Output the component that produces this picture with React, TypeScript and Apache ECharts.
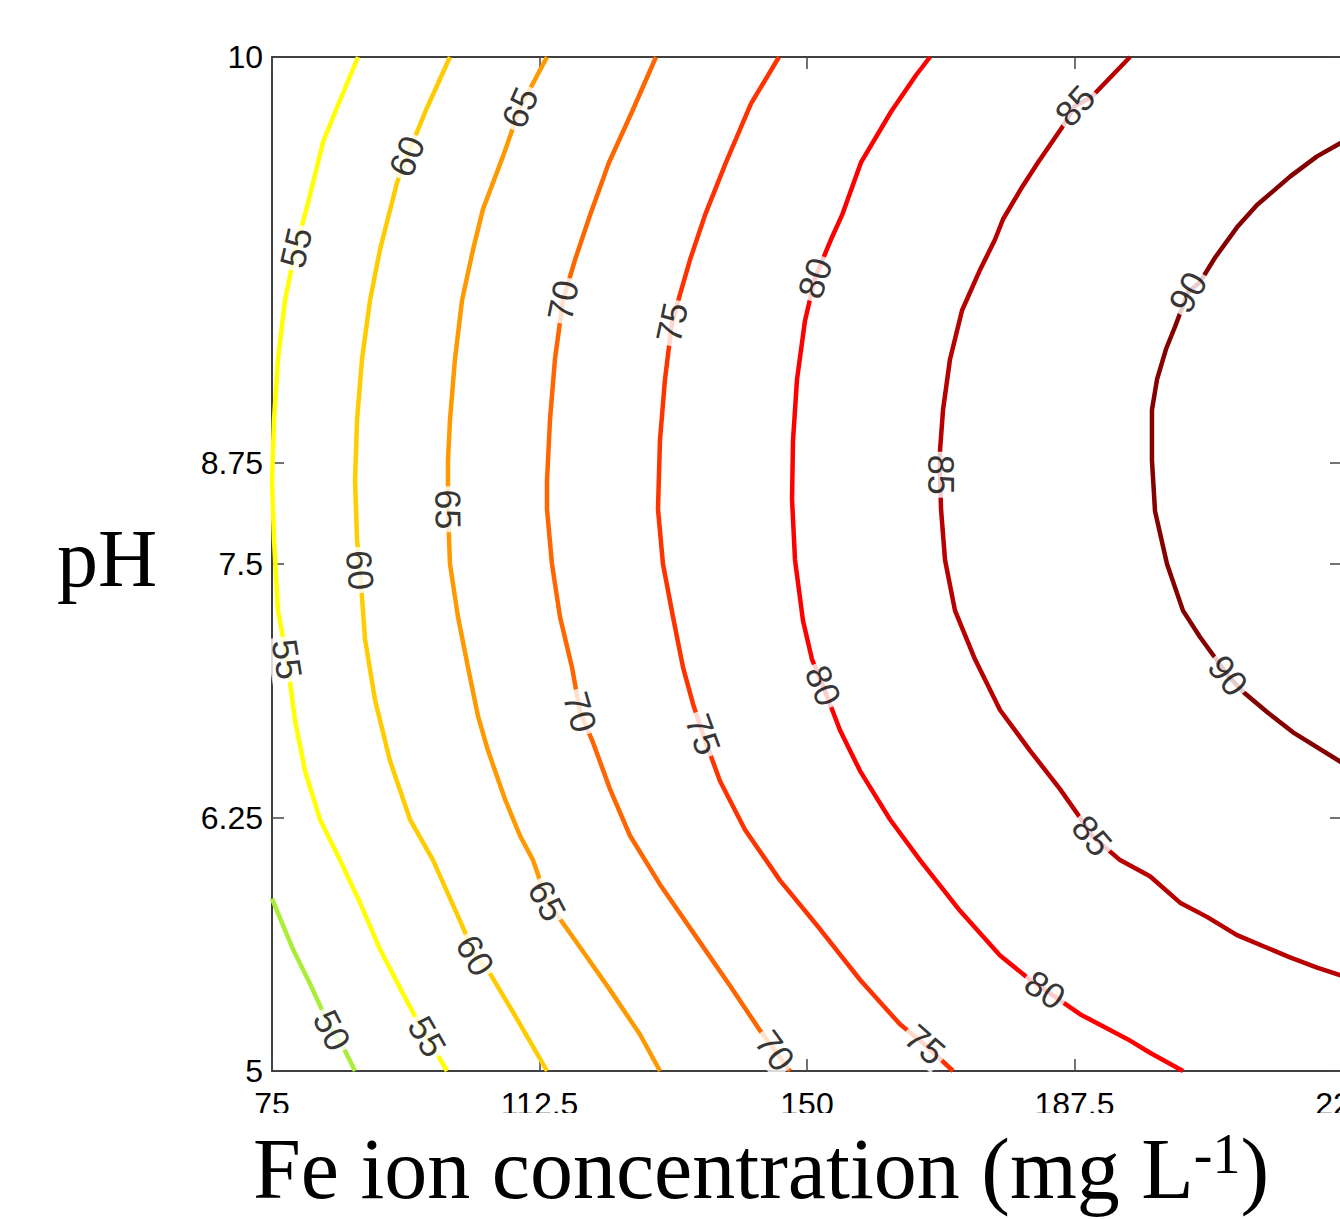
import React, { useEffect, useRef } from "react";
import * as echarts from "echarts";

// ---- axis ticks ----
const xMin = 75;
const xMax = 225;
const xInterval = 37.5;
const yMin = 5;
const yMax = 10;
const yTickValues = [5, 6.25, 7.5, 8, 10];
const yTickLabels = ["5", "6.25", "7.5", "8.75", "10"];

// ---- contour levels ----
const levels = [50, 55, 60, 65, 70, 75, 80, 85, 90];
const levelColors = ["#aaee3a", "#ffff00", "#ffcc00", "#ff9900", "#ff6600", "#ff3300", "#ff0000", "#b80000", "#850000"];

// ---- contour paths [Fe ion (mg/L), pH] ----
const contour50 = [[75.0, 5.85], [77.94, 5.6], [80.33, 5.43], [82.15, 5.29], [83.41, 5.2], [84.95, 5.12], [86.64, 5.0]];
const contour55 = [[87.06, 10.0], [84.11, 9.75], [82.15, 9.58], [80.05, 9.28], [78.36, 9.06], [76.82, 8.8], [75.84, 8.51], [75.28, 8.21], [75.0, 7.91], [75.28, 7.62], [75.84, 7.27], [77.1, 7.03], [78.22, 6.73], [79.63, 6.48], [81.73, 6.24], [84.53, 6.04], [87.34, 5.83], [90.14, 5.6], [92.94, 5.41], [95.33, 5.25], [96.73, 5.17], [99.53, 5.0]];
const contour60 = [[99.95, 10.0], [96.73, 9.75], [93.93, 9.51], [92.52, 9.38], [90.14, 9.05], [88.74, 8.8], [87.62, 8.51], [86.92, 8.21], [86.64, 7.91], [86.92, 7.62], [87.34, 7.47], [88.04, 7.13], [89.44, 6.83], [91.54, 6.53], [94.35, 6.24], [97.57, 6.04], [101.36, 5.74], [103.46, 5.57], [105.56, 5.48], [108.79, 5.29], [111.59, 5.12], [113.55, 5.0]];
const contour65 = [[113.55, 10.0], [109.77, 9.75], [107.38, 9.51], [104.58, 9.25], [103.18, 9.05], [101.64, 8.8], [100.65, 8.51], [99.95, 8.21], [99.67, 8.01], [99.67, 7.77], [99.95, 7.5], [101.07, 7.24], [102.48, 6.99], [103.88, 6.75], [105.28, 6.58], [107.66, 6.34], [109.77, 6.16], [111.59, 6.04], [113.55, 5.84], [118.18, 5.61], [122.38, 5.4], [126.59, 5.18], [129.39, 5.0]];
const contour70 = [[128.83, 10.0], [125.47, 9.73], [122.24, 9.48], [119.58, 9.22], [117.48, 9.0], [115.79, 8.8], [114.67, 8.51], [113.97, 8.21], [113.55, 7.91], [113.55, 7.77], [114.25, 7.5], [115.37, 7.24], [117.06, 6.99], [118.18, 6.77], [120.0, 6.62], [122.38, 6.39], [125.19, 6.16], [129.39, 5.92], [134.3, 5.67], [139.21, 5.42], [143.41, 5.2], [145.51, 5.1], [147.62, 5.0]];
const contour75 = [[146.07, 10.0], [142.15, 9.77], [138.64, 9.48], [135.7, 9.22], [133.6, 9.0], [132.2, 8.83], [131.07, 8.69], [130.09, 8.41], [129.39, 8.11], [129.11, 7.77], [129.81, 7.5], [131.21, 7.24], [132.62, 6.99], [134.02, 6.81], [135.42, 6.66], [137.8, 6.43], [141.31, 6.19], [146.21, 5.94], [151.82, 5.7], [157.43, 5.45], [163.04, 5.23], [166.54, 5.13], [170.47, 5.0]];
const contour80 = [[167.24, 10.0], [165.28, 9.91], [161.78, 9.73], [157.57, 9.48], [154.91, 9.22], [153.36, 9.1], [151.12, 8.91], [149.72, 8.7], [148.6, 8.41], [148.04, 8.11], [147.9, 7.82], [148.32, 7.52], [149.44, 7.22], [150.7, 7.03], [152.24, 6.9], [154.63, 6.68], [157.43, 6.48], [161.64, 6.24], [165.84, 6.04], [171.45, 5.79], [177.06, 5.57], [181.26, 5.45], [183.36, 5.4], [188.27, 5.28], [195.28, 5.15], [198.08, 5.09], [202.71, 5.0]];
const contour85 = [[195.28, 10.0], [189.81, 9.8], [187.57, 9.76], [185.89, 9.66], [182.38, 9.48], [180.0, 9.35], [177.48, 9.2], [176.36, 9.1], [174.25, 8.95], [171.73, 8.75], [170.05, 8.51], [169.07, 8.26], [168.65, 8.06], [168.65, 7.94], [168.79, 7.77], [169.35, 7.52], [170.75, 7.27], [173.55, 7.03], [177.06, 6.78], [181.26, 6.58], [185.47, 6.39], [188.27, 6.25], [189.95, 6.16], [193.88, 6.04], [198.08, 5.96], [202.29, 5.83], [206.07, 5.76], [210.28, 5.67], [217.71, 5.56], [221.5, 5.51], [225.0, 5.47]];
const contour90 = [[225.0, 9.58], [221.5, 9.51], [217.71, 9.41], [213.08, 9.27], [210.28, 9.16], [207.19, 9.01], [205.09, 8.89], [203.41, 8.84], [201.59, 8.67], [200.33, 8.56], [199.07, 8.41], [198.36, 8.26], [198.36, 8.01], [198.79, 7.76], [200.47, 7.5], [202.71, 7.27], [205.09, 7.14], [209.01, 6.95], [211.12, 6.87], [214.49, 6.77], [218.13, 6.67], [225.0, 6.52]];
const contours = [contour50, contour55, contour60, contour65, contour70, contour75, contour80, contour85, contour90];

// ---- inline contour labels ----
const labelLevels = [50, 55, 55, 55, 60, 60, 60, 65, 65, 65, 70, 70, 70, 75, 75, 75, 80, 80, 80, 85, 85, 85, 90, 90];
const labelX = [83.41, 78.36, 77.1, 96.73, 93.93, 87.34, 103.46, 109.77, 99.67, 113.55, 115.79, 118.18, 145.51, 131.07, 135.42, 166.54, 151.12, 152.24, 183.36, 187.57, 168.65, 189.95, 203.41, 209.01];
const labelY = [5.2, 9.06, 7.03, 5.17, 9.51, 7.47, 5.57, 9.75, 7.77, 5.84, 8.8, 6.77, 5.1, 8.69, 6.66, 5.13, 8.91, 6.9, 5.4, 9.76, 7.94, 6.16, 8.84, 6.95];
const labelAngles = [-63, 77, -81, -60, 68, -85, -60, 66, -89, -62, 79, -74, -54, 78, -70, -41, 72, -68, -35, 48, -90, -49, 60, -52];

const xTitle = "Fe ion concentration (mg L";
const xTitleSup = "-1";
const yTitle = "pH";

export default function App() {
  const ref = useRef<HTMLDivElement>(null);
  useEffect(() => {
    if (!ref.current) return;
    const chart = echarts.init(ref.current, null, { renderer: "svg" });

    const lineSeries = contours.map((pts, i) => ({
      type: "line",
      name: String(levels[i]),
      data: pts,
      showSymbol: false,
      symbol: "none",
      smooth: false,
      clip: true,
      lineStyle: { color: levelColors[i], width: 4.5 },
      z: 2,
    }));

    const labelData = labelLevels.map((lv, i) => ({
      value: [labelX[i], labelY[i]],
      label: { rotate: labelAngles[i], formatter: String(lv) },
    }));

    const axisLineStyle = { color: "#000", width: 1.5 };
    const tickStyle = { color: "#444", width: 1.5 };
    const tickFont = { fontFamily: "Liberation Sans, Arial, sans-serif", fontSize: 32, color: "#000" };

    chart.setOption({
      animation: false,
      backgroundColor: "#fff",
      grid: { left: 272, top: 57, width: 1070, height: 1014, containLabel: false, outerBoundsMode: "none" },
      xAxis: [
        {
          type: "value", position: "bottom", min: xMin, max: xMax, interval: xInterval,
          axisLine: { show: true, lineStyle: axisLineStyle },
          axisTick: { show: true, inside: true, length: 12, lineStyle: tickStyle },
          axisLabel: { ...tickFont, margin: 17, showMaxLabel: true, showMinLabel: true },
          splitLine: { show: false },
        },
        {
          type: "value", position: "top", min: xMin, max: xMax, interval: xInterval,
          axisLine: { show: true, lineStyle: axisLineStyle },
          axisTick: { show: true, inside: true, length: 12, lineStyle: tickStyle },
          axisLabel: { show: false },
          splitLine: { show: false },
        },
      ],
      yAxis: [
        {
          type: "value", position: "left", min: yMin, max: yMax,
          axisLine: { show: true, lineStyle: axisLineStyle },
          axisTick: { show: true, inside: true, length: 12, lineStyle: tickStyle, customValues: yTickValues },
          axisLabel: {
            ...tickFont, margin: 9, customValues: yTickValues,
            formatter: (v: number) => {
              const idx = yTickValues.findIndex((t) => Math.abs(t - v) < 1e-6);
              return idx >= 0 ? yTickLabels[idx] : "";
            },
          },
          splitLine: { show: false },
        },
        {
          type: "value", position: "right", min: yMin, max: yMax,
          axisLine: { show: true, lineStyle: axisLineStyle },
          axisTick: { show: true, inside: true, length: 12, lineStyle: tickStyle, customValues: yTickValues },
          axisLabel: { show: false },
          splitLine: { show: false },
        },
      ],
      series: [
        ...lineSeries,
        {
          type: "scatter",
          name: "labels",
          data: labelData,
          symbol: "circle",
          symbolSize: 0.1,
          itemStyle: { color: "rgba(0,0,0,0)" },
          label: {
            show: true,
            position: "inside",
            color: "#000",
            fontFamily: "Liberation Sans, Arial, sans-serif",
            fontSize: 36,
            backgroundColor: "#fff",
            padding: [0, 3],
          },
          z: 5,
        },
      ],
      graphic: [
        {
          type: "rect",
          shape: { x: 200, y: 1113, width: 1140, height: 22 },
          style: { fill: "#fff" },
          z: 100,
        },
        {
          type: "text",
          x: 761,
          y: 1169,
          z: 101,
          style: {
            text: "{a|" + xTitle + "}{s|" + xTitleSup + "}{a|)}",
            align: "center",
            verticalAlign: "middle",
            rich: {
              a: { fontFamily: "Liberation Serif, Times New Roman, serif", fontSize: 86, fill: "#000", color: "#000" },
              s: { fontFamily: "Liberation Serif, Times New Roman, serif", fontSize: 56, fill: "#000", color: "#000", verticalAlign: "top", padding: [0, 0, 26, 0] },
            },
          },
        },
        {
          type: "text",
          x: 107,
          y: 558,
          z: 101,
          style: {
            text: yTitle,
            align: "center",
            verticalAlign: "middle",
            fontFamily: "Liberation Serif, Times New Roman, serif",
            fontSize: 82,
            fill: "#000",
          },
        },
      ],
    });
    return () => chart.dispose();
  }, []);
  return (
    <div
      ref={ref}
      style={{ position: "fixed", left: 0, top: 0, width: 1340, height: 1219, background: "#fff" }}
    />
  );
}
